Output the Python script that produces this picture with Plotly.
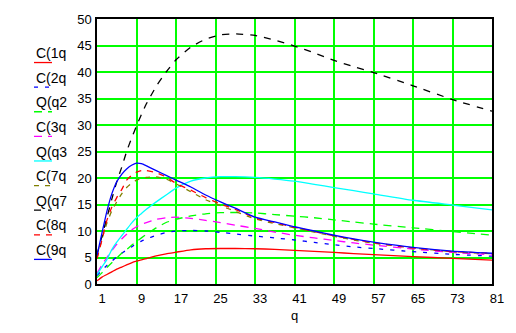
import plotly.graph_objects as go

q = [1, 2, 3, 4, 5, 6, 7, 8, 9, 10, 11, 13, 15, 17, 20, 23, 26, 29, 33, 37, 41, 45, 49, 53, 57, 65, 73, 81]

C1 = [0.6, 1.3, 1.8, 2.3, 2.8, 3.2, 3.6, 4.0, 4.3, 4.55, 4.8, 5.3, 5.7, 6.0, 6.45, 6.65, 6.7, 6.7, 6.65, 6.55, 6.35, 6.15, 5.95, 5.75, 5.55, 5.15, 4.85, 4.5]
C2 = [1.6, 2.6, 3.5, 4.3, 5.1, 5.8, 6.4, 7.0, 7.6, 8.1, 8.5, 9.2, 9.7, 10.0, 10.1, 10.0, 9.75, 9.45, 9.05, 8.7, 8.3, 7.85, 7.4, 7.0, 6.7, 6.1, 5.6, 5.25]
Qq2 = [1.2, 2.1, 3.1, 4.0, 4.9, 5.8, 6.5, 7.3, 8.0, 8.7, 9.4, 10.6, 11.6, 12.2, 12.85, 13.25, 13.45, 13.5, 13.4, 13.1, 12.8, 12.5, 12.1, 11.7, 11.3, 10.6, 9.9, 9.2]
C3 = [2.0, 3.6, 5.0, 6.3, 7.5, 8.5, 9.4, 10.2, 10.8, 11.3, 11.6, 12.2, 12.5, 12.6, 12.4, 12.0, 11.6, 11.1, 10.5, 9.8, 9.2, 8.7, 8.2, 7.75, 7.35, 6.6, 5.95, 5.5]
Qq3 = [1.8, 3.2, 4.6, 6.5, 7.9, 9.1, 10.3, 11.5, 12.5, 13.3, 14.1, 15.5, 16.8, 18.1, 19.4, 20.0, 20.25, 20.25, 20.1, 19.8, 19.4, 18.8, 18.2, 17.6, 17.0, 15.8, 14.9, 14.0]
C7 = [4.8, 8.5, 11.5, 13.8, 15.5, 17.0, 18.2, 19.0, 19.6, 19.9, 20.1, 20.2, 19.8, 18.9, 17.4, 15.9, 14.8, 13.7, 12.3, 11.4, 10.6, 9.8, 9.0, 8.3, 7.7, 6.8, 6.1, 5.7]
Qq7 = [5.5, 9.0, 12.5, 16.0, 19.3, 22.0, 25.0, 27.5, 29.8, 32.0, 34.0, 37.3, 40.0, 42.3, 44.7, 46.2, 47.0, 47.2, 46.9, 46.0, 44.9, 43.6, 42.2, 41.0, 39.9, 37.4, 34.8, 32.6]
C8 = [4.8, 8.3, 12.0, 14.5, 16.3, 17.8, 19.6, 20.5, 21.1, 21.4, 21.4, 21.0, 20.2, 19.0, 17.7, 16.3, 15.1, 14.1, 12.5, 11.6, 10.7, 9.9, 9.1, 8.4, 7.8, 6.8, 6.1, 5.8]
C9 = [5.4, 9.6, 13.7, 17.0, 19.3, 20.7, 21.7, 22.4, 22.8, 22.7, 22.3, 21.4, 20.5, 19.6, 18.3, 16.8, 15.5, 14.3, 12.6, 11.7, 10.8, 10.0, 9.2, 8.5, 7.9, 6.9, 6.2, 5.8]

labels = ["C(1q", "C(2q", "Q(q2", "C(3q", "Q(q3", "C(7q", "Q(q7", "C(8q", "C(9q"]
series = [C1, C2, Qq2, C3, Qq3, C7, Qq7, C8, C9]
colors = ["#FF0000", "#0000FF", "#00FF00", "#FF00FF", "#00FFFF", "#808000", "#000000", "#FF0000", "#0000FF"]
dashes = ["solid", "4px,7px", "8px,6px", "8px,6px", "solid", "5px,6px", "7px,7px", "6px,6px", "solid"]

xticks = [1, 9, 17, 25, 33, 41, 49, 57, 65, 73, 81]
yticks = [0, 5, 10, 15, 20, 25, 30, 35, 40, 45, 50]

fig = go.Figure()
for name, ys, c, d in zip(labels, series, colors, dashes):
    fig.add_trace(go.Scatter(x=q, y=ys, mode="lines", name=name,
                             line=dict(color=c, dash=d, width=1.3, shape="spline", smoothing=0.5)))

L, R, T, B = 97, 492, 17, 297
W, H = 516, 333

def px_x(p):
    return (p - L) / (R - L)

def px_y(p):
    return (B - p) / (B - T)

font = dict(family="Liberation Sans, Arial, sans-serif", size=13, color="#000000")

for i, (name, c, d) in enumerate(zip(labels, colors, dashes)):
    ty = 53 + 26 * i
    fig.add_annotation(x=px_x(34), y=px_y(ty), xref="paper", yref="paper",
                       text=name, showarrow=False, xanchor="left", yanchor="middle",
                       font=dict(family="Liberation Sans, Arial, sans-serif", size=14, color="#000000"))
    fig.add_shape(type="line", xref="paper", yref="paper",
                  x0=px_x(34), x1=px_x(52), y0=px_y(ty + 10), y1=px_y(ty + 10),
                  line=dict(color=c, width=1.3, dash=d))

fig.update_layout(
    width=W, height=H,
    margin=dict(l=L, r=W - R, t=T, b=H - B),
    paper_bgcolor="white", plot_bgcolor="white",
    showlegend=False,
    font=font,
)
fig.update_xaxes(range=[1, 81], tickvals=xticks, ticktext=[str(v) for v in xticks],
                 showgrid=True, gridcolor="#00FF00", gridwidth=1.6,
                 showline=True, mirror=True, linecolor="#000000", linewidth=1.5,
                 zeroline=False, ticks="", ticklabelshift=5, ticklabelstandoff=2,
                 title=dict(text="q", standoff=6, font=font))
fig.update_yaxes(range=[0, 50], tickvals=yticks, ticktext=[str(v) for v in yticks],
                 showgrid=True, gridcolor="#00FF00", gridwidth=1.6,
                 showline=True, mirror=True, linecolor="#000000", linewidth=1.5,
                 zeroline=False, ticks="", ticklabelstandoff=1)

fig.write_html("out.html")
